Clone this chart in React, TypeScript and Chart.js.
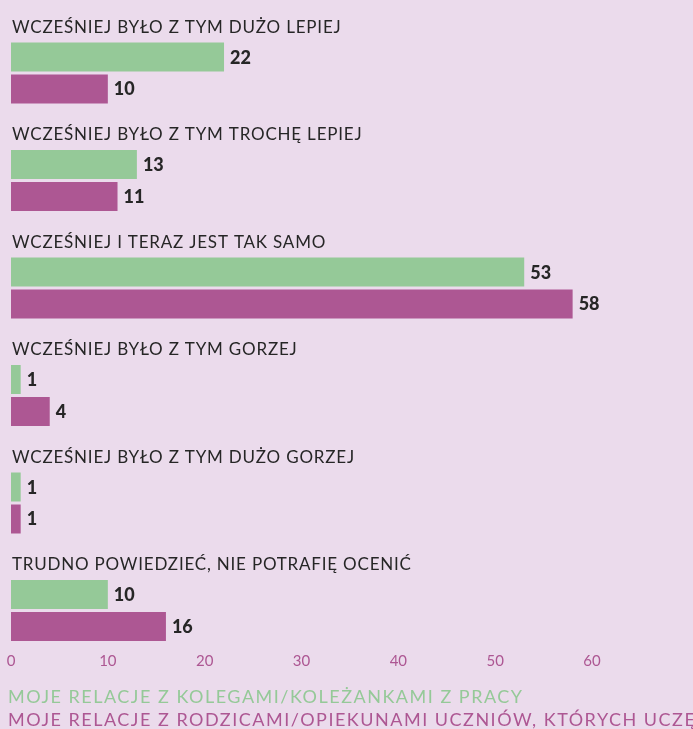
import React, { useEffect, useRef } from "react";
import { Chart, registerables } from "chart.js";

Chart.register(...registerables);

const categories = [
  "WCZEŚNIEJ BYŁO Z TYM DUŻO LEPIEJ",
  "WCZEŚNIEJ BYŁO Z TYM TROCHĘ LEPIEJ",
  "WCZEŚNIEJ I TERAZ JEST TAK SAMO",
  "WCZEŚNIEJ BYŁO Z TYM GORZEJ",
  "WCZEŚNIEJ BYŁO Z TYM DUŻO GORZEJ",
  "TRUDNO POWIEDZIEĆ, NIE POTRAFIĘ OCENIĆ",
];
const seriesNames = [
  "MOJE RELACJE Z KOLEGAMI/KOLEŻANKAMI Z PRACY",
  "MOJE RELACJE Z RODZICAMI/OPIEKUNAMI UCZNIÓW, KTÓRYCH UCZĘ",
];
const colleagues = [22, 13, 53, 1, 1, 10];
const parents = [10, 11, 58, 4, 1, 16];
const xMin = 0;
const xMax = 60;
const xStep = 10;

const BG = "#ebdbec";
const GREEN = "#95c998";
const MAGENTA = "#ad5793";
const TEXT = "#262626";

const labelsPlugin = {
  id: "groupLabels",
  afterDatasetsDraw(chart: any) {
    const ctx = chart.ctx;
    ctx.save();
    const m0 = chart.getDatasetMeta(0);
    ctx.fillStyle = TEXT;
    ctx.textAlign = "left";
    ctx.font = "400 17px Lato";
    try { ctx.letterSpacing = "0.8px"; } catch (e) {}
    ctx.textBaseline = "alphabetic";
    m0.data.forEach((bar: any, i: number) => {
      const p = bar.getProps(["x", "y", "height"], true);
      const top = p.y - p.height / 2;
      ctx.fillText(categories[i], 12, top - 10);
    });
    try { ctx.letterSpacing = "0px"; } catch (e) {}
    ctx.font = "900 18px Lato";
    ctx.textBaseline = "alphabetic";
    chart.data.datasets.forEach((ds: any, di: number) => {
      const meta = chart.getDatasetMeta(di);
      meta.data.forEach((bar: any, i: number) => {
        const p = bar.getProps(["x", "y"], true);
        ctx.fillText(String(ds.data[i]), p.x + 6, p.y + 6.5);
      });
    });
    ctx.restore();
  },
};

function App() {
  const canvasRef = useRef<HTMLCanvasElement | null>(null);

  useEffect(() => {
    document.body.style.margin = "0";
    document.body.style.background = BG;
    const canvas = canvasRef.current;
    if (!canvas) return;
    const chart = new Chart(canvas, {
      type: "bar",
      data: {
        labels: categories,
        datasets: [
          { label: seriesNames[0], data: colleagues, backgroundColor: GREEN },
          { label: seriesNames[1], data: parents, backgroundColor: MAGENTA },
        ],
      },
      options: {
        indexAxis: "y",
        animation: false,
        responsive: true,
        maintainAspectRatio: false,
        layout: { padding: { left: 11, right: 101, top: 73, bottom: 7.5 } },
        datasets: {
          bar: {
            categoryPercentage: 0.5953,
            barPercentage: 0.90625,
            clip: false as any,
          },
        },
        scales: {
          x: {
            min: xMin,
            max: xMax,
            grid: { display: false, drawTicks: false },
            border: { display: false },
            ticks: {
              stepSize: xStep,
              color: MAGENTA,
              padding: 42,
              font: { family: "Lato", size: 15, weight: "400" as any },
            },
            afterFit: (scale: any) => {
              scale.paddingLeft = 0;
              scale.paddingRight = 0;
            },
          },
          y: {
            type: "category",
            display: false,
            offset: false,
            grid: { display: false },
          },
        },
        plugins: {
          legend: { display: false },
          tooltip: { enabled: false },
        },
      },
      plugins: [labelsPlugin],
    });
    return () => chart.destroy();
  }, []);

  const legendStyle: React.CSSProperties = {
    position: "absolute",
    left: 8,
    fontFamily: "Lato",
    fontWeight: 400,
    fontSize: 18,
    lineHeight: "22px",
    letterSpacing: "1.5px",
    whiteSpace: "nowrap",
  };

  return (
    <div style={{ position: "relative", width: 693, height: 729, background: BG, overflow: "hidden" }}>
      <div style={{ position: "absolute", left: 0, top: 0, width: 693, height: 720 }}>
        <canvas ref={canvasRef} />
      </div>
      <div style={{ ...legendStyle, top: 685, color: GREEN }}>{seriesNames[0]}</div>
      <div style={{ ...legendStyle, top: 708, color: MAGENTA }}>{seriesNames[1]}</div>
    </div>
  );
}

export default App;
